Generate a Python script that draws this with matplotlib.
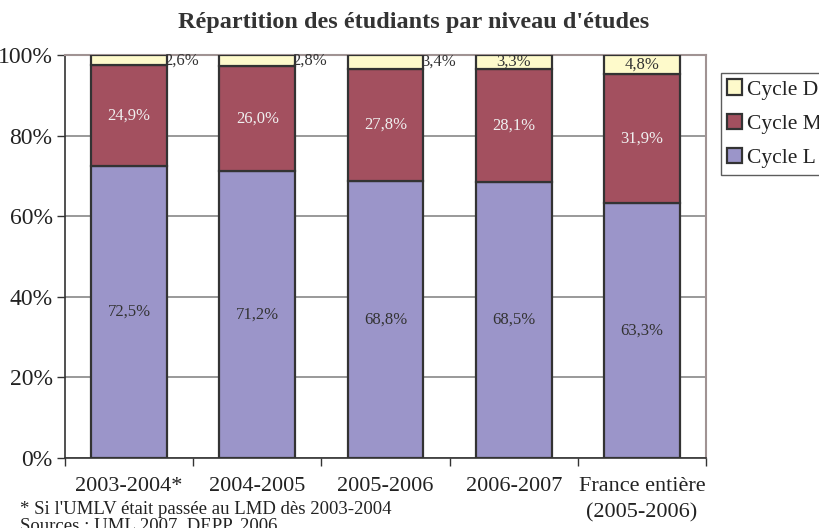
import matplotlib.pyplot as plt
import numpy as np

plt.rcParams["font.family"] = "Liberation Serif"
plt.rcParams["text.color"] = "#222222"

categories = ['2003-2004*', '2004-2005', '2005-2006', '2006-2007', 'France entière\n(2005-2006)']
cycle_l = [72.5, 71.2, 68.8, 68.5, 63.3]
cycle_m = [24.9, 26.0, 27.8, 28.1, 31.9]
cycle_d = [2.6, 2.8, 3.4, 3.3, 4.8]
yticks = [0, 20, 40, 60, 80, 100]

col_l = '#9b95c9'
col_m = '#a3505f'
col_d = '#fefacb'
edge = '#333333'

fig = plt.figure(figsize=(8.19, 5.28), dpi=100)
ax = fig.add_axes([0.0794, 0.1326, 0.7826, 0.7634])

x = np.arange(len(categories))
w = 0.59
l_arr = np.array(cycle_l)
m_arr = np.array(cycle_m)
d_arr = np.array(cycle_d)

bl = ax.bar(x, l_arr, w, color=col_l, edgecolor=edge, linewidth=1.6, label='Cycle L', zorder=3)
bm = ax.bar(x, m_arr, w, bottom=l_arr, color=col_m, edgecolor=edge, linewidth=1.6, label='Cycle M', zorder=3)
bd = ax.bar(x, d_arr, w, bottom=l_arr + m_arr, color=col_d, edgecolor=edge, linewidth=1.6, label='Cycle D', zorder=3)

def fmt(v):
    return ('%.1f%%' % v).replace('.', ',')

for i in range(len(categories)):
    ax.text(x[i], l_arr[i] / 2, fmt(l_arr[i]), ha='center', va='center', fontsize=12, color='#333333', zorder=4)
    ax.text(x[i], l_arr[i] + m_arr[i] / 2, fmt(m_arr[i]), ha='center', va='center', fontsize=12, color='#f0f0f0', zorder=4)
    ytop = l_arr[i] + m_arr[i] + d_arr[i] / 2
    if i < 3:
        ax.text(x[i] + w / 2 - 0.02, ytop, fmt(d_arr[i]), ha='left', va='center', fontsize=12, color='#333333', zorder=4)
    else:
        ax.text(x[i], ytop, fmt(d_arr[i]), ha='center', va='center', fontsize=12, color='#333333', zorder=4)

ax.set_xlim(-0.5, len(categories) - 0.5)
ax.set_ylim(0, 100)
ax.set_yticks(yticks)
ax.set_yticklabels(['%d%%' % v for v in yticks], fontsize=17, color='#222222')
ax.yaxis.grid(True, color='#888888', linewidth=1.2, zorder=0)
ax.set_axisbelow(True)

ax.set_xticks(x)
ax.set_xticklabels(categories, fontsize=16, linespacing=1.5, color='#222222')
ax.set_xticks(np.arange(-0.5, len(categories), 1), minor=True)
ax.tick_params(axis='x', which='major', length=0, pad=14)
ax.tick_params(axis='x', which='minor', length=6, width=1, color='#333333', direction='out')
ax.tick_params(axis='y', length=6, width=1, color='#333333', direction='out', pad=3)

for s in ['top', 'right']:
    ax.spines[s].set_color('#a09393')
    ax.spines[s].set_linewidth(1.5)
for s in ['left', 'bottom']:
    ax.spines[s].set_color('#333333')
    ax.spines[s].set_linewidth(1.2)

fig.text(0.505, 0.957, "Répartition des étudiants par niveau d'études", fontsize=17.5,
         fontweight='bold', color='#333333', ha='center', va='center')

leg = fig.legend(handles=[bd, bm, bl], labels=['Cycle D', 'Cycle M', 'Cycle L'],
                 loc='upper left', bbox_to_anchor=(0.8803, 0.8617), fontsize=15.5,
                 frameon=True, fancybox=False, edgecolor='#333333',
                 handlelength=0.7, handleheight=0.7, handletextpad=0.2,
                 labelspacing=0.66, borderpad=0.3, borderaxespad=0)
leg.get_frame().set_linewidth(1.0)

fig.text(0.024, 0.018, "* Si l'UMLV était passée au LMD dès 2003-2004", fontsize=13.5, ha='left', va='bottom')
fig.text(0.024, -0.012, "Sources : UML 2007, DEPP, 2006", fontsize=13.5, ha='left', va='bottom')

fig.savefig('out.png', dpi=100)
